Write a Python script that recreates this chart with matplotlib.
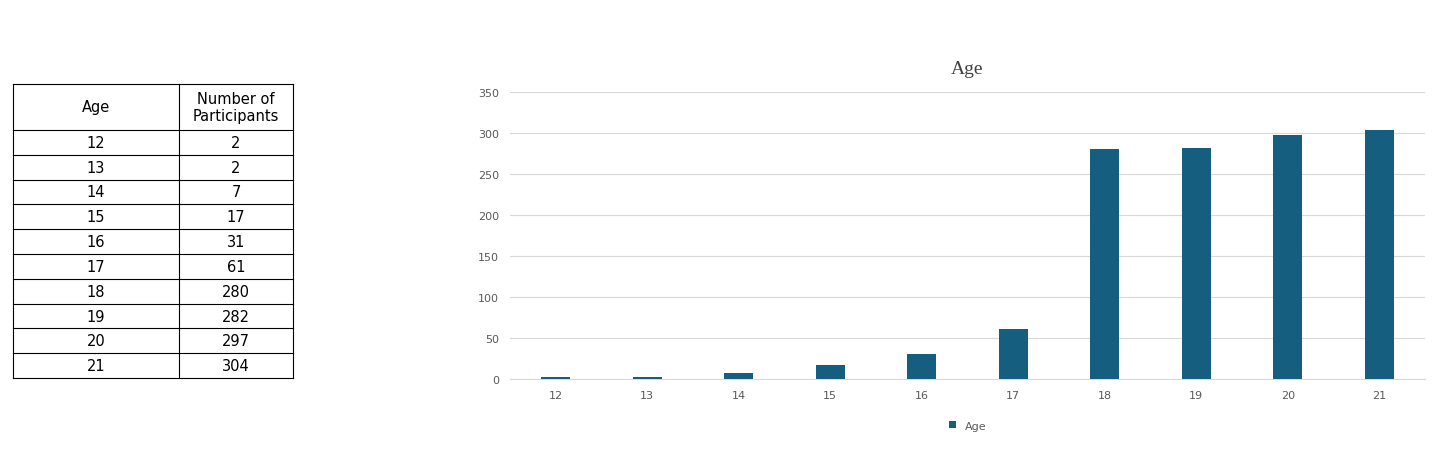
import matplotlib
matplotlib.use("Agg")
import matplotlib.pyplot as plt

ages = [12, 13, 14, 15, 16, 17, 18, 19, 20, 21]
participants = [2, 2, 7, 17, 31, 61, 280, 282, 297, 304]
header = ["Age", "Number of\nParticipants"]

W, H = 1456, 464
fig = plt.figure(figsize=(W/100, H/100), dpi=100)

# Table
def fx(x): return x / W
def fy(y): return 1 - y / H
tl, tm, tr = 13, 179, 293
ttop, hbot, tbot = 85, 131, 379
rh = (tbot - hbot) / len(ages)
ys = [ttop, hbot] + [hbot + rh*(i+1) for i in range(len(ages))]
for y in ys:
    fig.add_artist(plt.Line2D([fx(tl), fx(tr)], [fy(y), fy(y)], color="black", lw=0.8))
for x in (tl, tm, tr):
    fig.add_artist(plt.Line2D([fx(x), fx(x)], [fy(ttop), fy(tbot)], color="black", lw=0.8))
fig.text(fx((tl+tm)/2), fy((ttop+hbot)/2), header[0], ha="center", va="center", fontsize=10.5)
fig.text(fx((tm+tr)/2), fy((ttop+hbot)/2), header[1], ha="center", va="center", fontsize=10.5, linespacing=1.2)
for i, (a, p) in enumerate(zip(ages, participants)):
    yc = hbot + rh*(i+0.5)
    fig.text(fx((tl+tm)/2), fy(yc), str(a), ha="center", va="center", fontsize=10.5)
    fig.text(fx((tm+tr)/2), fy(yc), str(p), ha="center", va="center", fontsize=10.5)

# Chart
ax = fig.add_axes([fx(510), fy(380), fx(1425-510), (380-93)/H])
x = list(range(len(ages)))
ax.bar(x, participants, width=0.32, color="#165E80", label="Age", zorder=3)
ax.set_ylim(0, 350)
ax.set_xlim(-0.5, len(ages)-0.5)
ax.set_yticks(range(0, 351, 50))
ax.set_xticks(x)
ax.set_xticklabels([str(a) for a in ages])
ax.grid(axis="y", color="#D9D9D9", lw=0.8, zorder=0)
for s in ("top", "right", "left"):
    ax.spines[s].set_visible(False)
ax.spines["bottom"].set_color("#D9D9D9")
ax.tick_params(length=0, labelsize=8, colors="#595959", pad=8)
ax.set_title("Age", fontfamily="Liberation Serif", fontsize=14, color="#404040", pad=14)
ax.legend(loc="upper center", bbox_to_anchor=(0.5, -0.11), frameon=False, fontsize=8,
          handlelength=0.6, handleheight=0.6, labelcolor="#595959")

fig.savefig("out.png", dpi=100, facecolor="white")
